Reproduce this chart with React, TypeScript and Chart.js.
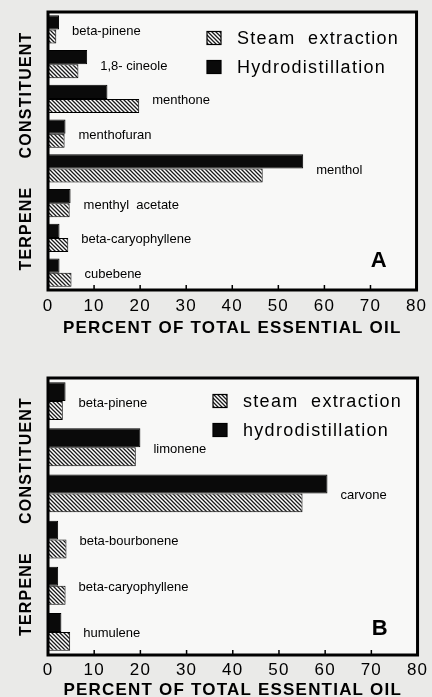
import React, { useEffect, useRef } from 'react';
import { Chart, registerables } from 'chart.js';

Chart.register(...registerables);

const FONT = "'Liberation Sans', Arial, Helvetica, sans-serif";

// ---- Panel A (peppermint) ----
const categoriesA = ['beta-pinene', '1,8- cineole', 'menthone', 'menthofuran', 'menthol', 'menthyl  acetate', 'beta-caryophyllene', 'cubebene'];
const steamA = [1.8, 6.6, 19.8, 3.6, 46.6, 4.7, 4.4, 5.1];
const hydroA = [2.4, 8.5, 12.9, 3.8, 55.4, 4.9, 2.5, 2.5];
const legendA = ['Steam  extraction', 'Hydrodistillation'];

// ---- Panel B (spearmint) ----
const categoriesB = ['beta-pinene', 'limonene', 'carvone', 'beta-bourbonene', 'beta-caryophyllene', 'humulene'];
const steamB = [3.2, 19.0, 55.1, 4.0, 3.8, 4.8];
const hydroB = [3.8, 20.0, 60.5, 2.2, 2.2, 2.9];
const legendB = ['steam  extraction', 'hydrodistillation'];

const xTickValues = [0, 10, 20, 30, 40, 50, 60, 70, 80];
const xTitle = 'PERCENT OF TOTAL ESSENTIAL OIL';
const yTitle = 'TERPENE     CONSTITUENT';

function makeHatch(): CanvasPattern | string {
  const c = document.createElement('canvas');
  c.width = 4;
  c.height = 4;
  const g = c.getContext('2d');
  if (!g) return '#888';
  g.fillStyle = '#ffffff';
  g.fillRect(0, 0, 4, 4);
  g.strokeStyle = '#1a1a1a';
  g.lineWidth = 1.3;
  g.beginPath();
  g.moveTo(-1, -1); g.lineTo(5, 5);
  g.moveTo(3, -1); g.lineTo(5, 1);
  g.moveTo(-1, 3); g.lineTo(1, 5);
  g.stroke();
  return g.createPattern(c, 'repeat') || '#888';
}

const panelPlugin = {
  id: 'panel',
  beforeDraw(chart: any) {
    chart.ctx.letterSpacing = '1.2px';
  },
  beforeDatasetsDraw(chart: any) {
    const { ctx, chartArea: a } = chart;
    ctx.save();
    ctx.fillStyle = '#f8f8f7';
    ctx.fillRect(a.left, a.top, a.right - a.left, a.bottom - a.top);
    ctx.restore();
    ctx.letterSpacing = '0px';
  },
  afterDatasetsDraw(chart: any, _args: any, opts: any) {
    const { ctx, chartArea: a } = chart;
    const xs = chart.scales.x;
    ctx.save();
    ctx.letterSpacing = '0px';
    // frame
    ctx.strokeStyle = '#000';
    ctx.lineWidth = 3;
    ctx.strokeRect(a.left, a.top, a.right - a.left, a.bottom - a.top);
    // inward tick marks
    ctx.lineWidth = 1.5;
    ctx.beginPath();
    xTickValues.forEach((v) => {
      const px = xs.getPixelForValue(v);
      ctx.moveTo(px, a.bottom);
      ctx.lineTo(px, a.bottom - 5);
    });
    ctx.stroke();
    // category labels next to bars
    const m0 = chart.getDatasetMeta(0);
    const m1 = chart.getDatasetMeta(1);
    const labels: string[] = chart.data.labels;
    ctx.fillStyle = '#000';
    ctx.font = `13px ${FONT}`;
    ctx.textBaseline = 'middle';
    ctx.textAlign = 'left';
    labels.forEach((lab, i) => {
      const e0 = m0.data[i];
      const e1 = m1.data[i];
      const xEnd = Math.max(e0.x, e1.x);
      const yc = (e0.y + e1.y) / 2;
      ctx.fillText(lab, xEnd + 13, yc + 2);
    });
    // legend (steam first, then hydro)
    const order = [1, 0];
    ctx.font = `18px ${FONT}`;
    ctx.letterSpacing = '1.3px';
    order.forEach((di, row) => {
      const ds = chart.data.datasets[di];
      const cy = a.top + opts.legendTop + row * 29;
      const bx = a.left + opts.legendLeft;
      ctx.fillStyle = ds.backgroundColor;
      ctx.fillRect(bx, cy - 6.5, 14, 13);
      ctx.strokeStyle = '#000';
      ctx.lineWidth = 1.2;
      ctx.strokeRect(bx, cy - 6.5, 14, 13);
      ctx.fillStyle = '#000';
      ctx.fillText(ds.label, bx + 30, cy + 1);
    });
    // panel letter
    ctx.letterSpacing = '0px';
    ctx.font = `bold 22px ${FONT}`;
    ctx.textAlign = 'right';
    ctx.textBaseline = 'alphabetic';
    ctx.fillText(opts.letter, a.right - 30, a.bottom - opts.letterBottom);
    ctx.restore();
  },
};

function buildConfig(
  cats: string[], hydro: number[], steam: number[], legend: string[],
  hatch: any, padTop: number, xAxisH: number, tickPad: number, titlePad: number,
  legendLeft: number, legendTop: number, letter: string, letterBottom: number,
): any {
  return {
    type: 'bar',
    data: {
      labels: cats,
      datasets: [
        { label: legend[1], data: hydro, backgroundColor: '#0a0a0a', borderColor: '#000', borderWidth: 1, barPercentage: 1, categoryPercentage: 0.82 },
        { label: legend[0], data: steam, backgroundColor: hatch, borderColor: '#000', borderWidth: 1, barPercentage: 1, categoryPercentage: 0.82 },
      ],
    },
    options: {
      indexAxis: 'y',
      responsive: false,
      animation: false,
      devicePixelRatio: 1,
      layout: { padding: { top: padTop, right: 14, left: 0, bottom: 0 } },
      plugins: {
        legend: { display: false },
        tooltip: { enabled: false },
        panel: { legendLeft, legendTop, letter, letterBottom },
      },
      scales: {
        x: {
          type: 'linear',
          min: 0,
          max: 80,
          afterFit: (s: any) => { s.height = xAxisH; },
          grid: { display: false, drawTicks: false },
          border: { display: false },
          ticks: {
            stepSize: 10,
            padding: tickPad,
            color: '#000',
            font: { family: FONT, size: 17 },
            callback: (v: any) => String(v),
          },
          title: {
            display: true,
            text: xTitle,
            color: '#000',
            font: { family: FONT, size: 17, weight: 'bold' },
            padding: { top: 0, bottom: titlePad },
          },
        },
        y: {
          type: 'category',
          afterFit: (s: any) => { s.width = 48; },
          grid: { display: false, drawTicks: false },
          border: { display: false },
          ticks: { display: false },
          title: {
            display: true,
            text: yTitle,
            color: '#000',
            font: { family: FONT, size: 16, weight: 'bold' },
            padding: { top: 17, bottom: 0 },
          },
        },
      },
    },
    plugins: [panelPlugin],
  };
}

export default function App() {
  const refA = useRef<HTMLCanvasElement>(null);
  const refB = useRef<HTMLCanvasElement>(null);

  useEffect(() => {
    const hatch = makeHatch();
    const cA = new Chart(refA.current as HTMLCanvasElement,
      buildConfig(categoriesA, hydroA, steamA, legendA, hatch, 12, 55, 6, 6.8, 159, 26, 'A', 23));
    const cB = new Chart(refB.current as HTMLCanvasElement,
      buildConfig(categoriesB, hydroB, steamB, legendB, hatch, 33, 50, 5, 4.8, 165, 23, 'B', 20));
    return () => { cA.destroy(); cB.destroy(); };
  }, []);

  return (
    <div style={{ position: 'absolute', left: 0, top: 0, width: 432, height: 697, overflow: 'hidden', background: '#eaeae8' }}>
      <canvas ref={refA} width={432} height={345} style={{ position: 'absolute', left: 0, top: 0, width: 432, height: 345 }} />
      <canvas ref={refB} width={432} height={360} style={{ position: 'absolute', left: 0, top: 345, width: 432, height: 360 }} />
    </div>
  );
}
